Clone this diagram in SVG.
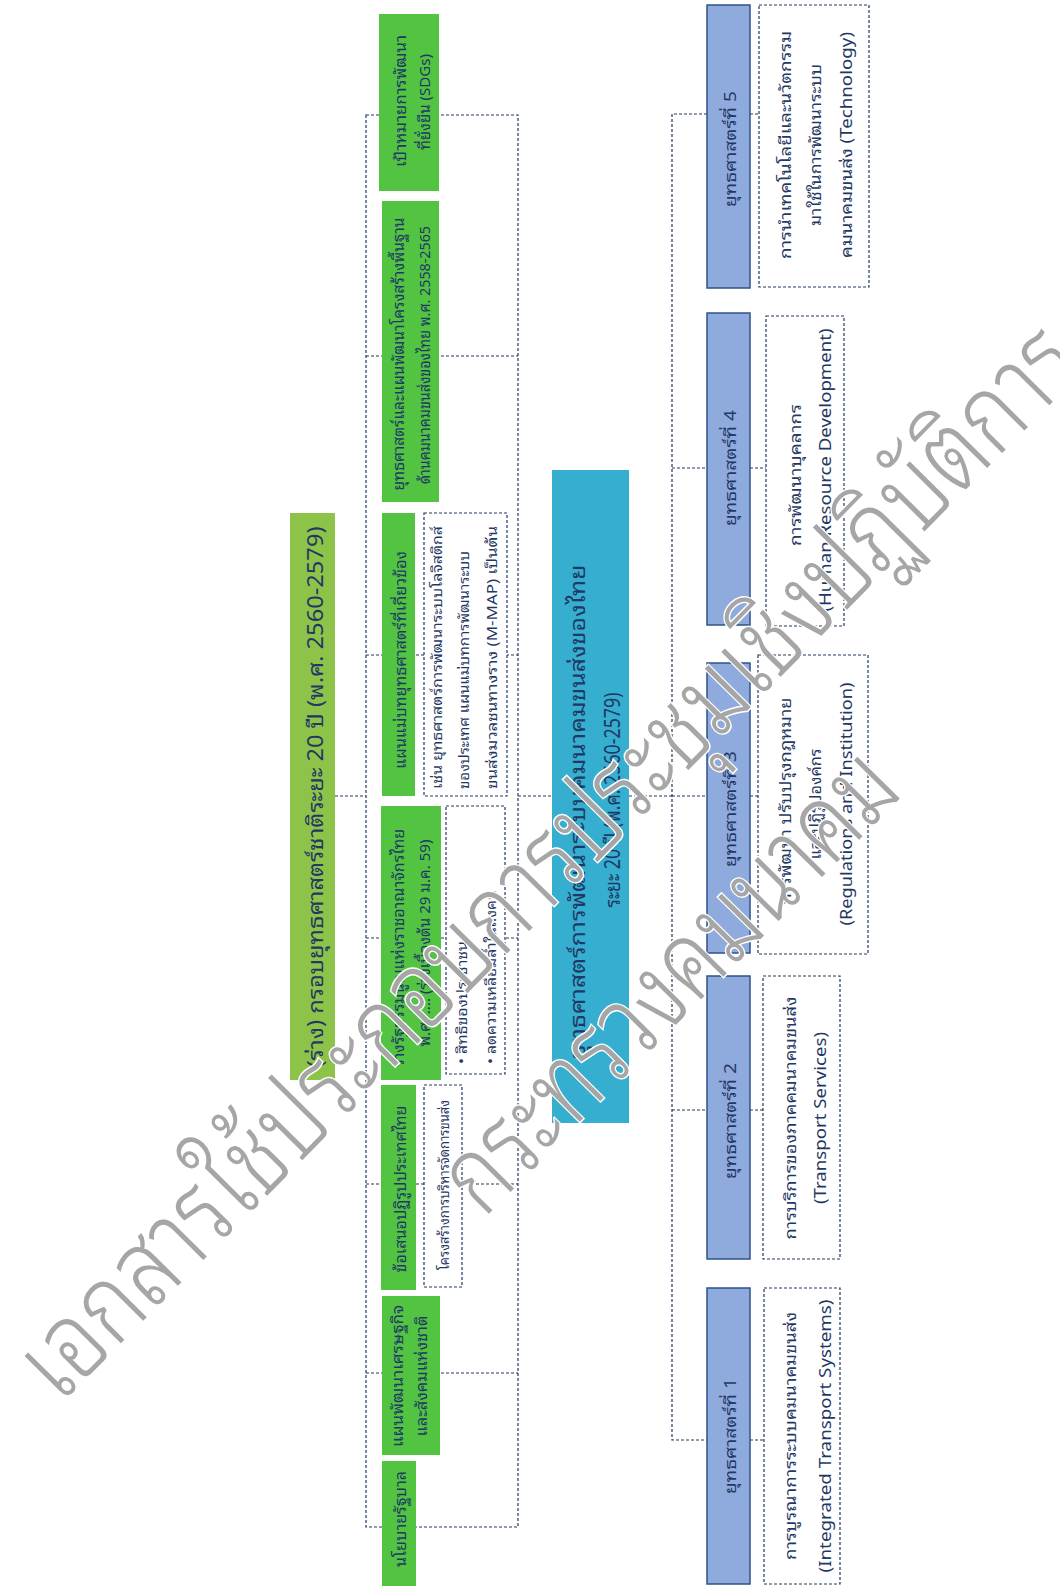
<svg xmlns="http://www.w3.org/2000/svg" width="1060" height="1586" viewBox="0 0 1060 1586">
<style>
.bg{fill:#fff}
.tg{fill:#8DC348}
.g{fill:#52C442}
.b{fill:#35AECF}
.s{fill:#8FAADC;stroke:#2F528F;stroke-width:1.5}
.d{fill:#fff;stroke:#1F3864;stroke-width:1.2;stroke-dasharray:3 2}
.c{fill:none;stroke:#1F3864;stroke-width:1.2;stroke-dasharray:3 2}
text{font-family:"Noto Sans Thai Looped","Noto Serif Thai","Noto Sans Thai","Noto Sans","Tahoma","DejaVu Sans",sans-serif;fill:#1F3864;dominant-baseline:central}
.m{text-anchor:middle}
.st{text-anchor:start}
.f14{font-size:14px}
.f15{font-size:15px}
.f16{font-size:16px}
.f21{font-size:21px}
.wm{font-size:108px;font-weight:300;fill:#A6A6A6;stroke:#fff;stroke-width:3;paint-order:stroke;text-anchor:middle}
</style>
<rect class="bg" x="0" y="0" width="1060" height="1586"/>

<g id="connectors">
<rect class="c" x="366" y="115" width="152" height="1412"/>
<path class="c" d="M366 356H518M366 655H518M366 938H518M366 1184H518M366 1373H518"/>
<path class="c" d="M335 796H366M518 796H552M629 796H672"/>
<path class="c" d="M707 114H672V1440H707M672 468H707M672 796H707M672 1110H707"/>
<path class="c" d="M750 114H759M750 468H766M750 796H758M750 1110H763M750 1440H764"/>
</g>

<g id="title">
<rect class="tg" x="290" y="513" width="45" height="567"/>
<text class="m f21" transform="translate(313 797) rotate(-90)" textLength="541" lengthAdjust="spacingAndGlyphs">(ร่าง) กรอบยุทธศาสตร์ชาติระยะ 20 ปี (พ.ศ. 2560-2579)</text>
</g>

<g id="sdg">
<rect class="g" x="379" y="14" width="60" height="177"/>
<text class="m f15" transform="translate(399 101) rotate(-90)" textLength="132" lengthAdjust="spacingAndGlyphs">เป้าหมายการพัฒนา</text>
<text class="m f15" transform="translate(423 102) rotate(-90)" textLength="96" lengthAdjust="spacingAndGlyphs">ที่ยั่งยืน (SDGs)</text>
</g>

<g id="infra">
<rect class="g" x="382" y="201" width="57" height="301"/>
<text class="m f15" transform="translate(397 354) rotate(-90)" textLength="273" lengthAdjust="spacingAndGlyphs">ยุทธศาสตร์และแผนพัฒนาโครงสร้างพื้นฐาน</text>
<text class="m f15" transform="translate(423 355) rotate(-90)" textLength="258" lengthAdjust="spacingAndGlyphs">ด้านคมนาคมขนส่งของไทย พ.ศ. 2558-2565</text>
</g>

<g id="masterplan">
<rect class="g" x="382" y="513" width="33" height="283"/>
<text class="m f15" transform="translate(399 660) rotate(-90)" textLength="218" lengthAdjust="spacingAndGlyphs">แผนแม่บทยุทธศาสตร์ที่เกี่ยวข้อง</text>
</g>
<g id="masterplan-desc">
<rect class="d" x="424" y="513" width="83" height="283"/>
<text class="st f14" transform="translate(435 789) rotate(-90)" textLength="263" lengthAdjust="spacingAndGlyphs">เช่น ยุทธศาสตร์การพัฒนาระบบโลจิสติกส์</text>
<text class="st f14" transform="translate(462 789) rotate(-90)" textLength="238" lengthAdjust="spacingAndGlyphs">ของประเทศ แผนแม่บทการพัฒนาระบบ</text>
<text class="st f14" transform="translate(490 789) rotate(-90)" textLength="263" lengthAdjust="spacingAndGlyphs">ขนส่งมวลชนทางราง (M-MAP) เป็นต้น</text>
</g>

<g id="constitution">
<rect class="g" x="381" y="806" width="60" height="274"/>
<text class="m f15" transform="translate(397 948) rotate(-90)" textLength="238" lengthAdjust="spacingAndGlyphs">ร่างรัฐธรรมนูญแห่งราชอาณาจักรไทย</text>
<text class="m f15" transform="translate(423 943) rotate(-90)" textLength="207" lengthAdjust="spacingAndGlyphs">พ.ศ. .... (ร่างเบื้องต้น 29 ม.ค. 59)</text>
</g>
<g id="constitution-desc">
<rect class="d" x="446" y="806" width="59" height="268"/>
<text class="st f14" transform="translate(460 1064) rotate(-90)" textLength="123" lengthAdjust="spacingAndGlyphs">• สิทธิของประชาชน</text>
<text class="st f14" transform="translate(489 1064) rotate(-90)" textLength="174" lengthAdjust="spacingAndGlyphs">• ลดความเหลื่อมล้ำในสังคม</text>
</g>

<g id="reform">
<rect class="g" x="381" y="1085" width="35" height="205"/>
<text class="m f15" transform="translate(399 1189) rotate(-90)" textLength="167" lengthAdjust="spacingAndGlyphs">ข้อเสนอปฏิรูปประเทศไทย</text>
</g>
<g id="reform-desc">
<rect class="d" x="424" y="1085" width="38" height="202"/>
<text class="m f14" transform="translate(442 1185) rotate(-90)" textLength="170" lengthAdjust="spacingAndGlyphs">โครงสร้างการบริหารจัดการขนส่ง</text>
</g>

<g id="econ">
<rect class="g" x="382" y="1296" width="58" height="159"/>
<text class="m f15" transform="translate(396 1376) rotate(-90)" textLength="142" lengthAdjust="spacingAndGlyphs">แผนพัฒนาเศรษฐกิจ</text>
<text class="m f15" transform="translate(420 1376) rotate(-90)" textLength="121" lengthAdjust="spacingAndGlyphs">และสังคมแห่งชาติ</text>
</g>

<g id="policy">
<rect class="g" x="382" y="1461" width="34" height="125"/>
<text class="m f15" transform="translate(399 1519) rotate(-90)" textLength="96" lengthAdjust="spacingAndGlyphs">นโยบายรัฐบาล</text>
</g>

<g id="main">
<rect class="b" x="552" y="470" width="77" height="653"/>
<text class="m f21" transform="translate(575 812) rotate(-90)" textLength="495" lengthAdjust="spacingAndGlyphs">ยุทธศาสตร์การพัฒนาระบบคมนาคมขนส่งของไทย</text>
<text class="m f21" transform="translate(610 800) rotate(-90)" textLength="215" lengthAdjust="spacingAndGlyphs">ระยะ 20 ปี (พ.ศ. 2560-2579)</text>
</g>

<g id="s5">
<rect class="s" x="707" y="5" width="43" height="283"/>
<text class="m f16" transform="translate(729 149) rotate(-90)" textLength="116" lengthAdjust="spacingAndGlyphs">ยุทธศาสตร์ที่ 5</text>
</g>
<g id="s5-desc">
<rect class="d" x="759" y="5" width="110" height="282"/>
<text class="m f16" transform="translate(784 145) rotate(-90)" textLength="228" lengthAdjust="spacingAndGlyphs">การนำเทคโนโลยีและนวัตกรรม</text>
<text class="m f16" transform="translate(814 145) rotate(-90)" textLength="162" lengthAdjust="spacingAndGlyphs">มาใช้ในการพัฒนาระบบ</text>
<text class="m f16" transform="translate(845 145) rotate(-90)" textLength="226" lengthAdjust="spacingAndGlyphs">คมนาคมขนส่ง (Technology)</text>
</g>

<g id="s4">
<rect class="s" x="707" y="313" width="43" height="312"/>
<text class="m f16" transform="translate(729 468) rotate(-90)" textLength="116" lengthAdjust="spacingAndGlyphs">ยุทธศาสตร์ที่ 4</text>
</g>
<g id="s4-desc">
<rect class="d" x="766" y="316" width="78" height="310"/>
<text class="m f16" transform="translate(794 475) rotate(-90)" textLength="142" lengthAdjust="spacingAndGlyphs">การพัฒนาบุคลากร</text>
<text class="m f16" transform="translate(824 470) rotate(-90)" textLength="283" lengthAdjust="spacingAndGlyphs">(Human Resource Development)</text>
</g>

<g id="s3">
<rect class="s" x="707" y="663" width="43" height="290"/>
<text class="m f16" transform="translate(729 809) rotate(-90)" textLength="116" lengthAdjust="spacingAndGlyphs">ยุทธศาสตร์ที่ 3</text>
</g>
<g id="s3-desc">
<rect class="d" x="758" y="655" width="110" height="299"/>
<text class="m f16" transform="translate(784 801) rotate(-90)" textLength="207" lengthAdjust="spacingAndGlyphs">การพัฒนา ปรับปรุงกฎหมาย</text>
<text class="m f16" transform="translate(814 804) rotate(-90)" textLength="111" lengthAdjust="spacingAndGlyphs">และปฏิรูปองค์กร</text>
<text class="m f16" transform="translate(845 804) rotate(-90)" textLength="243" lengthAdjust="spacingAndGlyphs">(Regulations and Institution)</text>
</g>

<g id="s2">
<rect class="s" x="707" y="976" width="43" height="283"/>
<text class="m f16" transform="translate(729 1121) rotate(-90)" textLength="116" lengthAdjust="spacingAndGlyphs">ยุทธศาสตร์ที่ 2</text>
</g>
<g id="s2-desc">
<rect class="d" x="763" y="976" width="77" height="283"/>
<text class="m f16" transform="translate(789 1118) rotate(-90)" textLength="243" lengthAdjust="spacingAndGlyphs">การบริการของภาคคมนาคมขนส่ง</text>
<text class="m f16" transform="translate(819 1118) rotate(-90)" textLength="172" lengthAdjust="spacingAndGlyphs">(Transport Services)</text>
</g>

<g id="s1">
<rect class="s" x="707" y="1288" width="43" height="296"/>
<text class="m f16" transform="translate(729 1436) rotate(-90)" textLength="116" lengthAdjust="spacingAndGlyphs">ยุทธศาสตร์ที่ 1</text>
</g>
<g id="s1-desc">
<rect class="d" x="764" y="1288" width="76" height="296"/>
<text class="m f16" transform="translate(789 1436) rotate(-90)" textLength="248" lengthAdjust="spacingAndGlyphs">การบูรณาการระบบคมนาคมขนส่ง</text>
<text class="m f16" transform="translate(824 1436) rotate(-90)" textLength="273" lengthAdjust="spacingAndGlyphs">(Integrated Transport Systems)</text>
</g>

<g id="watermark">
<text class="wm" transform="translate(539 852) rotate(-45.3)" textLength="1460" lengthAdjust="spacingAndGlyphs">เอกสารใช้ประกอบการประชุมเชิงปฏิบัติการ</text>
<text class="wm" transform="translate(660 972) rotate(-45.3)" textLength="600" lengthAdjust="spacingAndGlyphs">กระทรวงคมนาคม</text>
</g>
</svg>
